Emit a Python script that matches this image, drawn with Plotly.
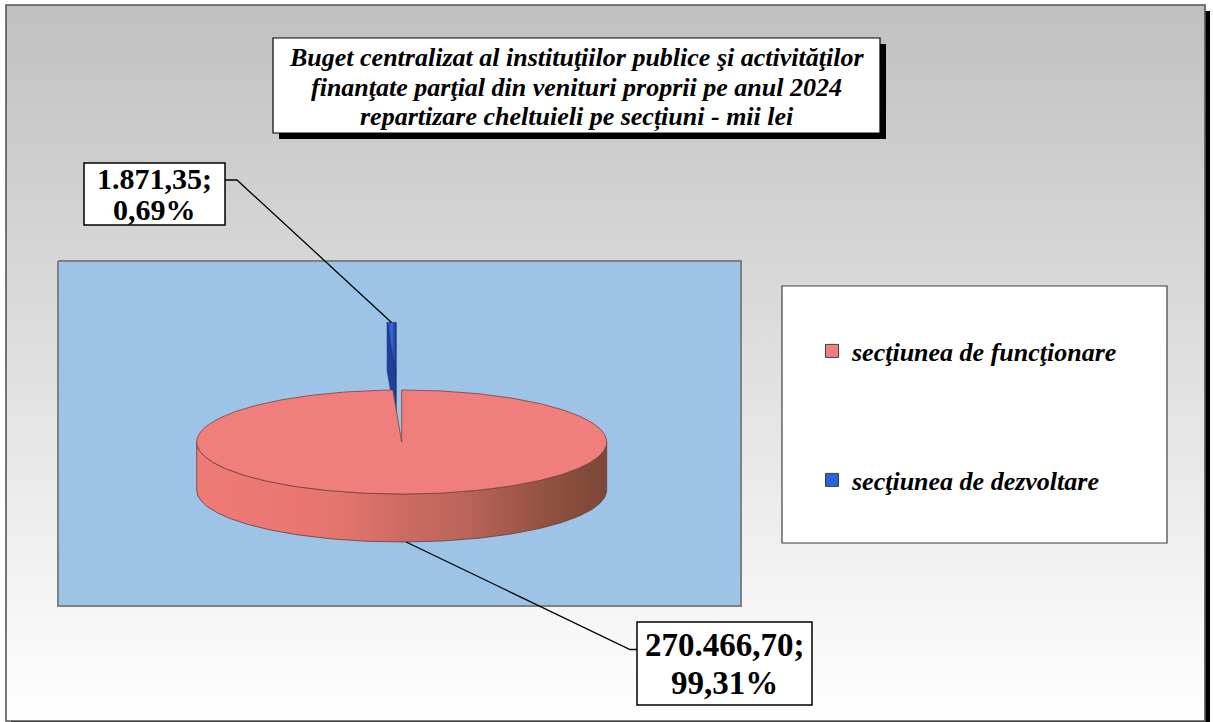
import numpy as np
import plotly.graph_objects as go

# ---------------- data ----------------
categories = ["secţiunea de funcţionare", "secţiunea de dezvoltare"]
values = [270466.70, 1871.35]
slice_colors = ["#F07E7C", "#2F62DA"]
title_lines = [
    "Buget centralizat al instituţiilor publice şi activităţilor",
    "finanţate parţial din venituri proprii pe anul 2024",
    "repartizare cheltuieli pe secțiuni - mii lei",
]

# ---------------- layout geometry (pixels) ----------------
W, H = 1213, 722
CX, CY = 401.7, 442.0      # centre of pie top ellipse
RX, RY = 205.0, 52.0       # ellipse radii
DEPTH = 48.0               # pie thickness
EXPLODE = [0.0, 1.3]       # explosion as fraction of radius
SERIF = "Liberation Serif"


def ro_fmt(v, dec=2):
    s = f"{v:,.{dec}f}"
    return s.replace(",", "X").replace(".", ",").replace("X", ".")


def pt(theta_deg, cx, cy):
    t = np.radians(theta_deg)
    return cx + RX * np.sin(t), cy - RY * np.cos(t)


def arc(t0, t1, cx, cy, n=200):
    th = np.linspace(t0, t1, n)
    t = np.radians(th)
    return cx + RX * np.sin(t), cy - RY * np.cos(t)


total = sum(values)
fracs = [v / total for v in values]
angles = np.concatenate([[0.0], np.cumsum(fracs) * 360.0])

fig = go.Figure()

# chart-area background (vertical gradient)
fig.add_trace(go.Scatter(
    x=[6, 1205, 1205, 6, 6], y=[5, 5, 721, 721, 5], mode="lines",
    fill="toself", line=dict(width=0),
    fillgradient=dict(type="vertical", colorscale=[[0, "#c0c0c0"], [1, "#ffffff"]],
                      start=5, stop=721),
    showlegend=False, hoverinfo="skip"))

# plot area
fig.add_trace(go.Scatter(
    x=[58, 741, 741, 58, 58], y=[261, 261, 606, 606, 261], mode="lines",
    fill="toself", fillcolor="#9DC3E6", line=dict(color="#808080", width=2),
    showlegend=False, hoverinfo="skip"))

# ---------- slice centres ----------
centres = []
for i in range(len(values)):
    tm = (angles[i] + angles[i + 1]) / 2
    ox = EXPLODE[i] * RX * np.sin(np.radians(tm))
    oy = -EXPLODE[i] * RY * np.cos(np.radians(tm))
    centres.append((CX + ox, CY + oy, tm))

# ---------- blue slice (behind, exploded) ----------
bx, by, btm = centres[1]
t0, t1 = angles[1], angles[2]
for tt, col in ((t0, "#1E3F9A"), (t1, "#244DB8")):
    ax_, ay_ = pt(tt, bx, by)
    fig.add_trace(go.Scatter(
        x=[ax_, bx, bx, ax_, ax_], y=[ay_, by, by + DEPTH, ay_ + DEPTH, ay_],
        mode="lines", fill="toself", fillcolor=col,
        line=dict(color="#1A2F70", width=0.6), showlegend=False, hoverinfo="skip"))
axx, ayy = arc(t0, t1, bx, by, 30)
fig.add_trace(go.Scatter(
    x=np.concatenate([[bx], axx, [bx]]), y=np.concatenate([[by], ayy, [by]]),
    mode="lines", fill="toself",
    fillgradient=dict(type="horizontal",
                      colorscale=[[0, "#1C3C96"], [0.5, "#3368E0"], [1, "#1C3C96"]]),
    line=dict(color="#1A2F70", width=0.6), showlegend=False, hoverinfo="skip"))

# ---------- pink slice ----------
px_, py_, ptm = centres[0]
p0, p1 = angles[0], angles[1]
# front side band
sx1, sy1 = arc(max(90, p0), min(270, p1), px_, py_)
sx2, sy2 = arc(min(270, p1), max(90, p0), px_, py_ + DEPTH)
fig.add_trace(go.Scatter(
    x=np.concatenate([sx1, sx2, sx1[:1]]), y=np.concatenate([sy1, sy2, sy1[:1]]),
    mode="lines", fill="toself",
    fillgradient=dict(type="horizontal",
                      colorscale=[[0, "#EF7B77"], [0.35, "#E6746E"], [0.5, "#CC6B63"],
                                  [0.65, "#BC645B"], [0.85, "#925242"], [1, "#7C4636"]]),
    line=dict(color="#6E3A36", width=0.8), showlegend=False, hoverinfo="skip"))
# top
tx, ty = arc(p0, p1, px_, py_, 400)
fig.add_trace(go.Scatter(
    x=np.concatenate([[px_], tx, [px_]]), y=np.concatenate([[py_], ty, [py_]]),
    mode="lines", fill="toself", fillcolor=slice_colors[0],
    line=dict(color="#7A4440", width=0.8), showlegend=False, hoverinfo="skip"))

# ---------- leader lines ----------
lab1_box = (84, 163, 225, 225)
lab2_box = (637, 622, 812, 705)
bt = pt(btm, bx, by)
fig.add_trace(go.Scatter(
    x=[lab1_box[2], lab1_box[2] + 12, bt[0]],
    y=[(lab1_box[1] + lab1_box[3]) / 2 - 14, (lab1_box[1] + lab1_box[3]) / 2 - 14, bt[1]],
    mode="lines", line=dict(color="black", width=1.3), showlegend=False, hoverinfo="skip"))
pb = pt(ptm, px_, py_ + DEPTH)
fig.add_trace(go.Scatter(
    x=[pb[0], lab2_box[0] - 7, lab2_box[0]],
    y=[pb[1], (lab2_box[1] + lab2_box[3]) / 2 - 14, (lab2_box[1] + lab2_box[3]) / 2 - 14],
    mode="lines", line=dict(color="black", width=1.3), showlegend=False, hoverinfo="skip"))

# ---------- legend entries ----------
legend_names = ["legend", "legend2"]
for i, name in enumerate(categories):
    fig.add_trace(go.Scatter(
        x=[None], y=[None], mode="markers", name=name, legend=legend_names[i],
        marker=dict(symbol="square", size=13, color=slice_colors[i] if i else "#F08080",
                    line=dict(color="#404040", width=1))))

shapes = [
    # outer shadow + frame
    dict(type="rect", x0=11, y0=11, x1=1210, y1=727, xref="x", yref="y",
         fillcolor="black", line=dict(width=0), layer="below"),
    dict(type="rect", x0=6, y0=5, x1=1205, y1=721, xref="x", yref="y",
         fillcolor="rgba(0,0,0,0)", line=dict(color="#555555", width=1.6), layer="above"),
    # title box + shadow
    dict(type="rect", x0=279, y0=44, x1=886, y1=139, xref="x", yref="y",
         fillcolor="black", line=dict(width=0), layer="above"),
    dict(type="rect", x0=273, y0=38, x1=880, y1=133, xref="x", yref="y",
         fillcolor="white", line=dict(color="black", width=1.2), layer="above"),
    # legend box
    dict(type="rect", x0=782, y0=286, x1=1167, y1=543, xref="x", yref="y",
         fillcolor="white", line=dict(color="#404040", width=1.2), layer="above"),
    # data label boxes
    dict(type="rect", x0=lab1_box[0], y0=lab1_box[1], x1=lab1_box[2], y1=lab1_box[3],
         xref="x", yref="y", fillcolor="white", line=dict(color="black", width=1.5),
         layer="above"),
    dict(type="rect", x0=lab2_box[0], y0=lab2_box[1], x1=lab2_box[2], y1=lab2_box[3],
         xref="x", yref="y", fillcolor="white", line=dict(color="black", width=1.5),
         layer="above"),
]

annotations = []
for k, line in enumerate(title_lines):
    annotations.append(dict(
        x=576.5, y=57 + 30 * k, xref="x", yref="y", text=line, showarrow=False,
        font=dict(family=SERIF, size=26, color="black", weight="bold", style="italic"),
        xanchor="center", yanchor="middle"))

pcts = [f * 100 for f in fracs]
label_boxes = [lab2_box, lab1_box]
line_gap = [38, 31]
label_size = [33, 30]
for i in range(len(values)):
    bx0, by0, bx1, by1 = label_boxes[i]
    mx, my = (bx0 + bx1) / 2, (by0 + by1) / 2
    g = line_gap[i]
    for j, txt in enumerate([ro_fmt(values[i]) + ";", ro_fmt(pcts[i]) + "%"]):
        annotations.append(dict(
            x=mx, y=my + (j - 0.5) * g, xref="x", yref="y", text=txt, showarrow=False,
            font=dict(family=SERIF, size=label_size[i], color="black", weight="bold"),
            xanchor="center", yanchor="middle"))

legfont = dict(family=SERIF, size=26, color="black", weight="bold", style="italic")
fig.update_layout(
    width=W, height=H, margin=dict(l=0, r=0, t=0, b=0),
    paper_bgcolor="white", plot_bgcolor="rgba(0,0,0,0)",
    xaxis=dict(range=[0, W], visible=False, fixedrange=True, domain=[0, 1]),
    yaxis=dict(range=[H, 0], visible=False, fixedrange=True, domain=[0, 1]),
    shapes=shapes, annotations=annotations,
    showlegend=True,
    legend=dict(x=812 / W, y=1 - 351 / H, xanchor="left", yanchor="middle",
                bgcolor="rgba(0,0,0,0)", borderwidth=0, font=legfont, itemsizing="trace"),
    legend2=dict(x=812 / W, y=1 - 480 / H, xanchor="left", yanchor="middle",
                 bgcolor="rgba(0,0,0,0)", borderwidth=0, font=legfont, itemsizing="trace"),
)

fig.write_html("out.html", config={"displayModeBar": False},
               post_script="document.body.style.margin='0';document.body.style.overflow='hidden';")
